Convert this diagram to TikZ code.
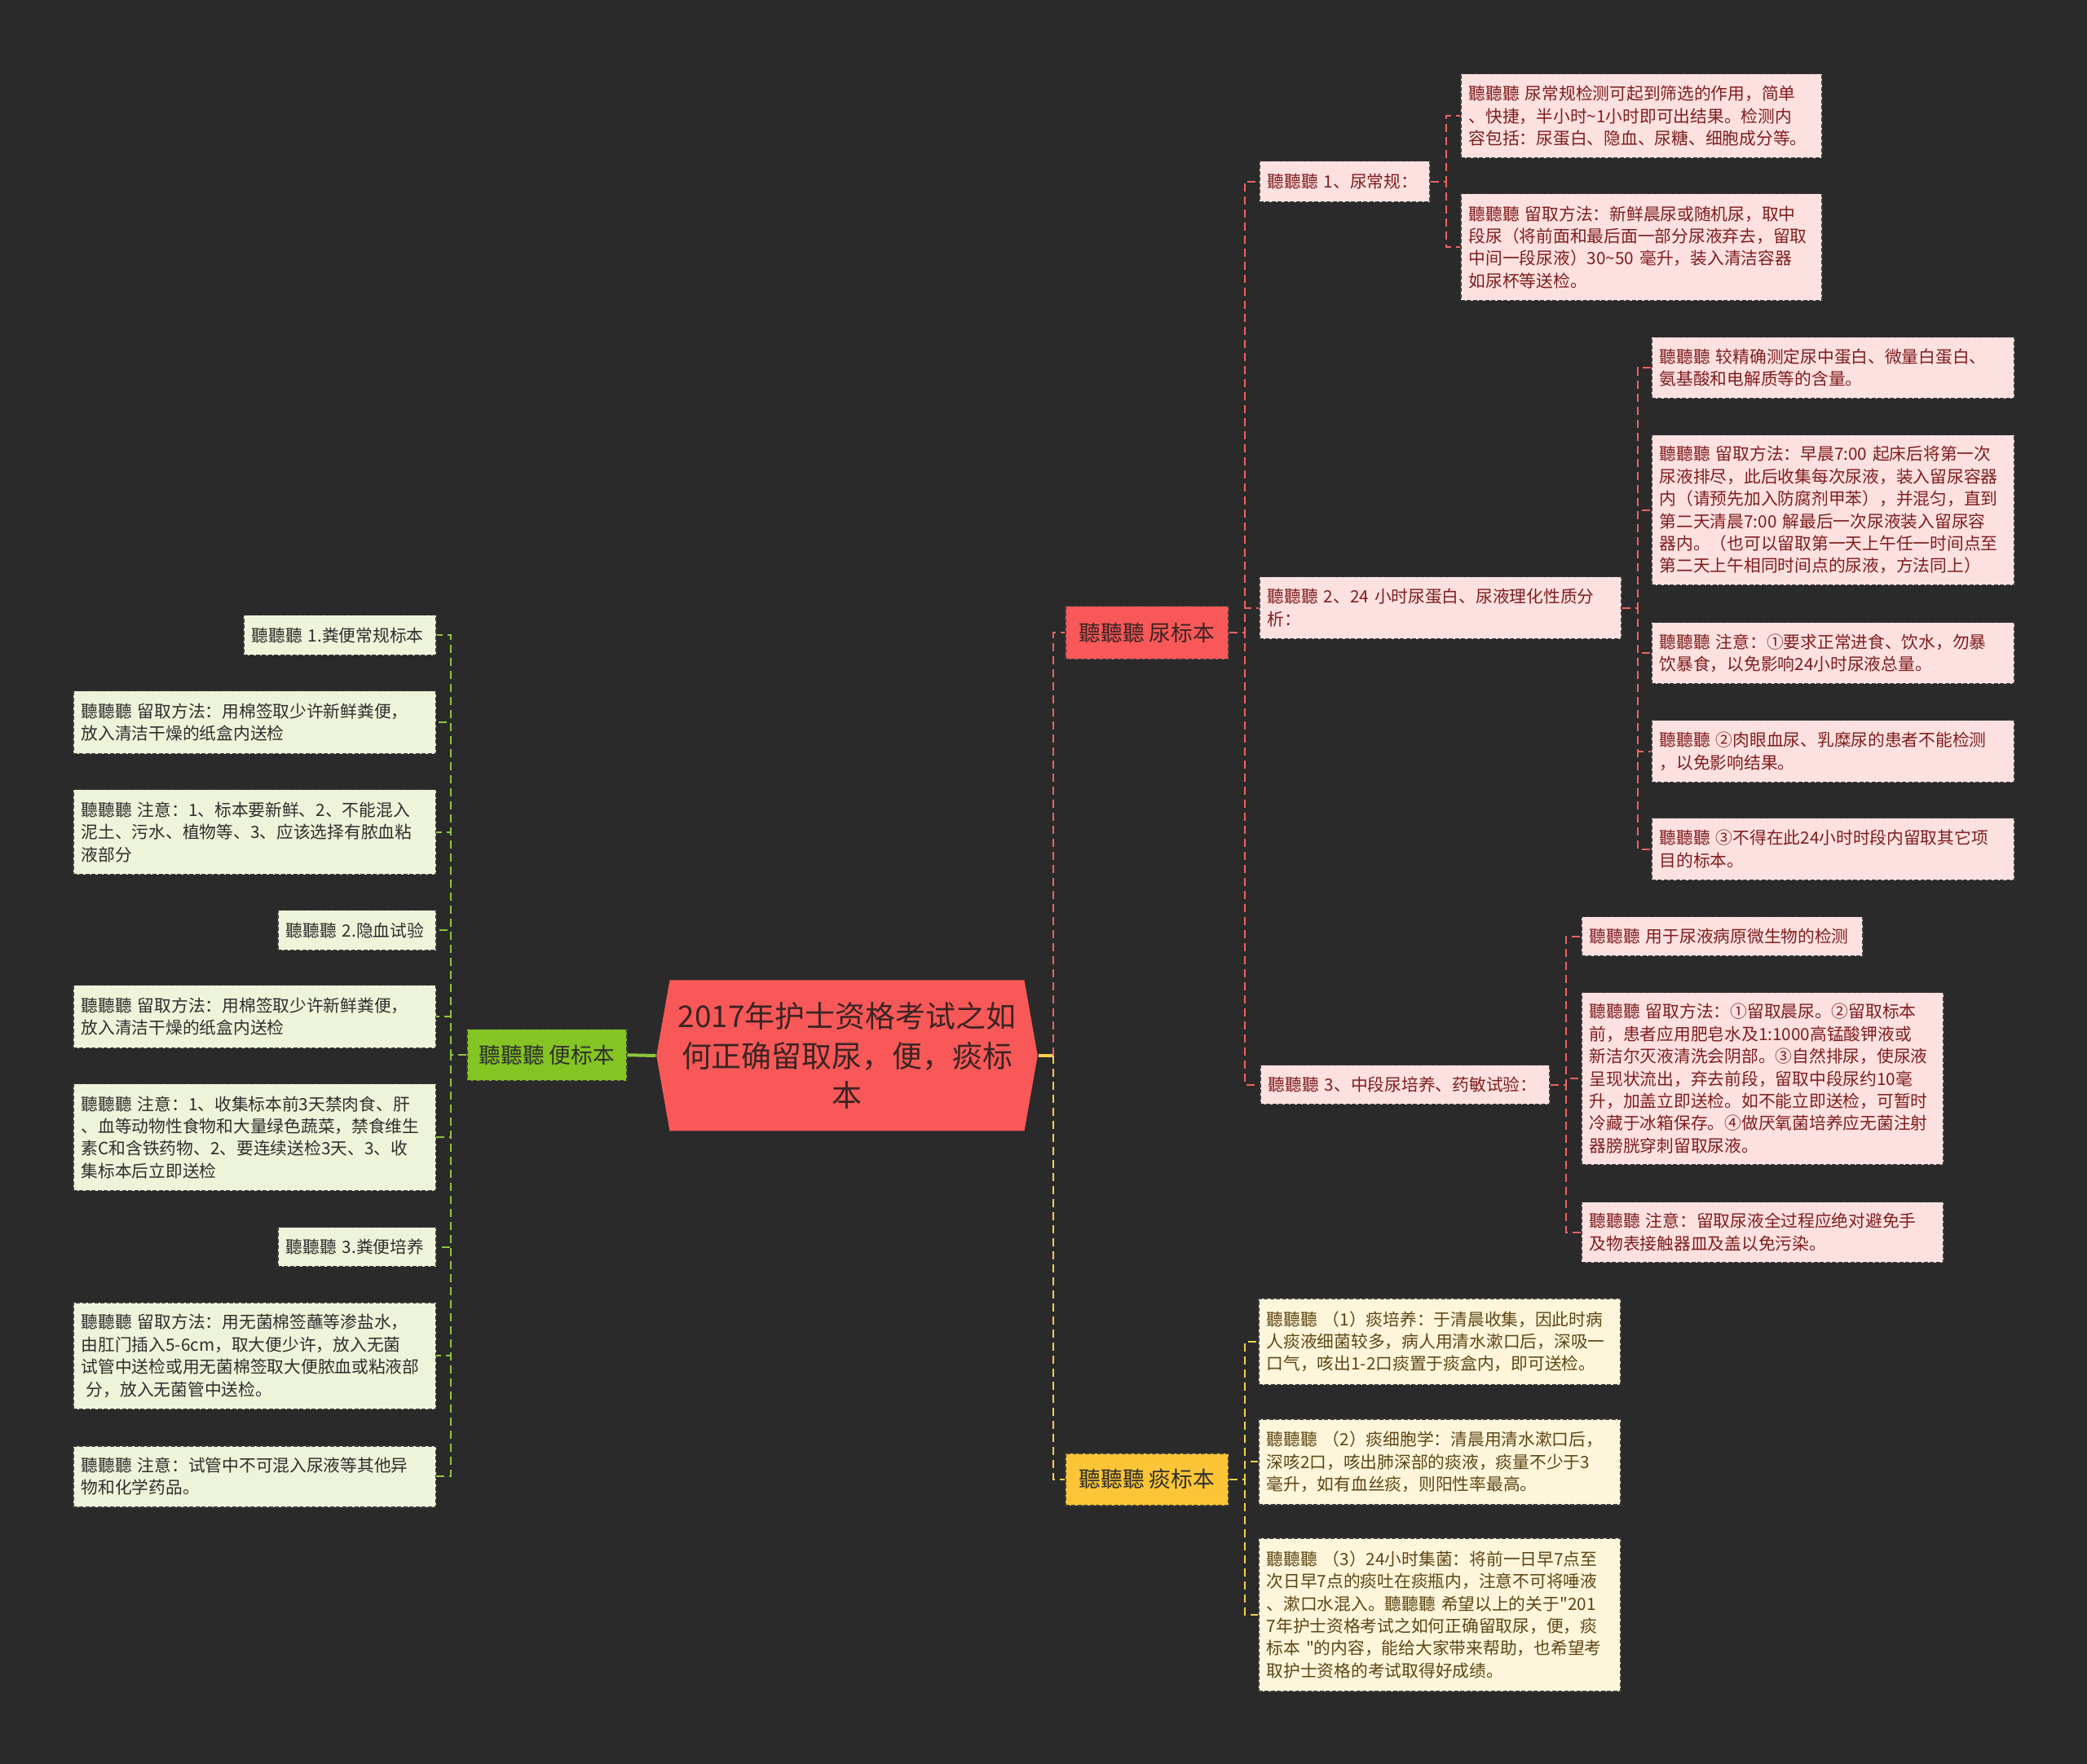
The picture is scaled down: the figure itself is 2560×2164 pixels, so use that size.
\documentclass[tikz,border=0pt]{standalone}
\usepackage{fontspec}
\setmainfont{Noto Sans CJK SC}[Ligatures=TeXOff]
\usepackage{tikz}
\usetikzlibrary{shapes.symbols,calc}
\usepackage{xcolor}
\definecolor{bgdark}{HTML}{2A2A2A}
\definecolor{rootfill}{HTML}{F95858}
\definecolor{roottext}{HTML}{3A2424}
\definecolor{pinkfill}{HTML}{FDE1E1}
\definecolor{pinktext}{HTML}{7F1D1D}
\definecolor{grnbranch}{HTML}{84C423}
\definecolor{grnfill}{HTML}{EEF4D9}
\definecolor{grntext}{HTML}{2E2E2E}
\definecolor{ylwbranch}{HTML}{FBC537}
\definecolor{ylwfill}{HTML}{FDF6DB}
\definecolor{ylwtext}{HTML}{5E4514}
\definecolor{redline}{HTML}{F06262}
\definecolor{grnline}{HTML}{8DC63F}
\definecolor{ylwline}{HTML}{F7D04C}
\definecolor{boxedge}{HTML}{3C3C3C}
\tikzset{
  root/.style = {signal, signal to=east and west, signal pointer angle=160, fill=rootfill,
    minimum width=46.2mm, minimum height=18.5mm, text width=41.5mm, align=center,
    inner xsep=1mm, text=roottext, font=\fontsize{10.5}{13.7}\selectfont},
  branch/.style = {rectangle, draw=boxedge, line width=0.15mm, dash pattern=on 0.5mm off 0.25mm,
    anchor=north west, minimum width=20mm, minimum height=6.5mm, align=center,
    font=\fontsize{7.6}{9}\selectfont},
  leaf/.style = {rectangle, draw=boxedge, line width=0.15mm, dash pattern=on 0.5mm off 0.25mm,
    anchor=north west, align=left, inner xsep=1mm, inner ysep=0.5mm,
    font=\fontsize{5.9}{7.8}\selectfont},
  urileaf/.style = {leaf, fill=pinkfill, text=pinktext},
  stoolleaf/.style = {leaf, fill=grnfill, text=grntext},
  spuleaf/.style = {leaf, fill=ylwfill, text=ylwtext},
  redlink/.style = {draw=redline, line width=0.2mm, dash pattern=on 1mm off 0.6mm},
  grnlink/.style = {draw=grnline, line width=0.2mm, dash pattern=on 1mm off 0.6mm},
  ylwlink/.style = {draw=ylwline, line width=0.2mm, dash pattern=on 1mm off 0.6mm},
  trunk/.style = {line width=0.4mm}
}
\begin{document}
\begin{tikzpicture}[x=0.1mm, y=-0.1mm]
\fill[bgdark] (0,0) rectangle (2560,2164);
\useasboundingbox (0,0) rectangle (2560,2164);

\node[root] (root) at (1039,1295) {2017年护士资格考试之如\\何正确留取尿，便，痰标\\本};

\node[branch, fill=rootfill, text=roottext] (uri) at (1306,743) {聽聽聽 尿标本};
\node[branch, fill=grnbranch, text=grntext, minimum width=19.6mm, minimum height=6.3mm] (stool) at (572,1262) {聽聽聽 便标本};
\node[branch, fill=ylwbranch, text=grntext, minimum height=6.4mm] (spu) at (1306,1782) {聽聽聽 痰标本};

% urine
\node[urileaf, text width=18.9mm, minimum height=5mm] (u1) at (1544,197) {聽聽聽 1、尿常规：};
\node[urileaf, text width=42.3mm, minimum height=10.3mm] (a1) at (1791,90)
  {聽聽聽 尿常规检测可起到筛选的作用，简单\\、快捷，半小时\textasciitilde1小时即可出结果。检测内\\容包括：尿蛋白、隐血、尿糖、细胞成分等。};
\node[urileaf, text width=42.3mm, minimum height=13.1mm] (a2) at (1791,237)
  {聽聽聽 留取方法：新鲜晨尿或随机尿，取中\\段尿（将前面和最后面一部分尿液弃去，留取\\中间一段尿液）30\textasciitilde50 毫升，装入清洁容器\\如尿杯等送检。};

\node[urileaf, text width=42.4mm, minimum height=7.6mm] (u2) at (1544,707)
  {聽聽聽 2、24 小时尿蛋白、尿液理化性质分\\析：};
\node[urileaf, text width=42.5mm, minimum height=7.5mm] (b1) at (2025,413)
  {聽聽聽 较精确测定尿中蛋白、微量白蛋白、\\氨基酸和电解质等的含量。};
\node[urileaf, text width=42.5mm, minimum height=18.4mm] (b2) at (2025,533)
  {聽聽聽 留取方法：早晨7:00 起床后将第一次\\尿液排尽，此后收集每次尿液，装入留尿容器\\内（请预先加入防腐剂甲苯），并混匀，直到\\第二天清晨7:00 解最后一次尿液装入留尿容\\器内。（也可以留取第一天上午任一时间点至\\第二天上午相同时间点的尿液，方法同上）};
\node[urileaf, text width=42.5mm, minimum height=7.5mm] (b3) at (2025,763)
  {聽聽聽 注意：①要求正常进食、饮水，勿暴\\饮暴食，以免影响24小时尿液总量。};
\node[urileaf, text width=42.5mm, minimum height=7.6mm] (b4) at (2025,883)
  {聽聽聽 ②肉眼血尿、乳糜尿的患者不能检测\\，以免影响结果。};
\node[urileaf, text width=42.5mm, minimum height=7.6mm] (b5) at (2025,1003)
  {聽聽聽 ③不得在此24小时时段内留取其它项\\目的标本。};

\node[urileaf, text width=33.5mm, minimum height=4.8mm] (u3) at (1545,1306) {聽聽聽 3、中段尿培养、药敏试验：};
\node[urileaf, text width=32.5mm, minimum height=4.8mm] (c1) at (1939,1124) {聽聽聽 用于尿液病原微生物的检测};
\node[urileaf, text width=42.4mm, minimum height=21.1mm] (c2) at (1939,1217)
  {聽聽聽 留取方法：①留取晨尿。②留取标本\\前，患者应用肥皂水及1:1000高锰酸钾液或\\新洁尔灭液清洗会阴部。③自然排尿，使尿液\\呈现状流出，弃去前段，留取中段尿约10毫\\升，加盖立即送检。如不能立即送检，可暂时\\冷藏于冰箱保存。④做厌氧菌培养应无菌注射\\器膀胱穿刺留取尿液。};
\node[urileaf, text width=42.4mm, minimum height=7.4mm] (c3) at (1939,1474)
  {聽聽聽 注意：留取尿液全过程应绝对避免手\\及物表接触器皿及盖以免污染。};

% sputum
\node[spuleaf, text width=42.4mm, minimum height=10.6mm] (d1) at (1543,1592)
  {聽聽聽 （1）痰培养：于清晨收集，因此时病\\人痰液细菌较多，病人用清水漱口后，深吸一\\口气，咳出1-2口痰置于痰盒内，即可送检。};
\node[spuleaf, text width=42.4mm, minimum height=10.5mm] (d2) at (1543,1740)
  {聽聽聽 （2）痰细胞学：清晨用清水漱口后，\\深咳2口，咳出肺深部的痰液，痰量不少于3\\毫升，如有血丝痰，则阳性率最高。};
\node[spuleaf, text width=42.4mm, minimum height=18.8mm] (d3) at (1543,1886)
  {聽聽聽 （3）24小时集菌：将前一日早7点至\\次日早7点的痰吐在痰瓶内，注意不可将唾液\\、漱口水混入。聽聽聽 希望以上的关于"201\\7年护士资格考试之如何正确留取尿，便，痰\\标本 "的内容，能给大家带来帮助，也希望考\\取护士资格的考试取得好成绩。};

% stool
\node[stoolleaf, text width=21.6mm, minimum height=4.9mm] (e1) at (298,754) {聽聽聽 1.粪便常规标本};
\node[stoolleaf, text width=42.5mm, minimum height=7.7mm] (e2) at (89,847)
  {聽聽聽 留取方法：用棉签取少许新鲜粪便，\\放入清洁干燥的纸盒内送检};
\node[stoolleaf, text width=42.5mm, minimum height=10.4mm] (e3) at (89,968)
  {聽聽聽 注意：1、标本要新鲜、2、不能混入\\泥土、污水、植物等、3、应该选择有脓血粘\\液部分};
\node[stoolleaf, text width=17.4mm, minimum height=4.9mm] (e4) at (340,1116) {聽聽聽 2.隐血试验};
\node[stoolleaf, text width=42.5mm, minimum height=7.7mm] (e5) at (89,1208)
  {聽聽聽 留取方法：用棉签取少许新鲜粪便，\\放入清洁干燥的纸盒内送检};
\node[stoolleaf, text width=42.5mm, minimum height=13.1mm] (e6) at (89,1329)
  {聽聽聽 注意：1、收集标本前3天禁肉食、肝\\、血等动物性食物和大量绿色蔬菜，禁食维生\\素C和含铁药物、2、要连续送检3天、3、收\\集标本后立即送检};
\node[stoolleaf, text width=17.4mm, minimum height=4.8mm] (e7) at (340,1505) {聽聽聽 3.粪便培养};
\node[stoolleaf, text width=42.5mm, minimum height=13.1mm] (e8) at (89,1597)
  {聽聽聽 留取方法：用无菌棉签蘸等渗盐水，\\由肛门插入5-6cm，取大便少许，放入无菌\\试管中送检或用无菌棉签取大便脓血或粘液部\\\hspace*{0.3em}分，放入无菌管中送检。};
\node[stoolleaf, text width=42.5mm, minimum height=7.5mm] (e9) at (89,1773)
  {聽聽聽 注意：试管中不可混入尿液等其他异\\物和化学药品。};

\coordinate (rj) at ($(root.east)+(18,0)$);
\draw[trunk, draw=ylwline] (root.east) -- (rj);
\draw[trunk, draw=grnline] (root.west) -- (stool.east);
\draw[redlink] (rj) |- (uri.west);
\draw[ylwlink] (rj) |- (spu.west);

\foreach \c in {u1,u2,u3} \draw[redlink] (uri.east) -- +(19,0) |- (\c.west);
\foreach \c in {a1,a2} \draw[redlink] (u1.east) -- +(19,0) |- (\c.west);
\foreach \c in {b1,b2,b3,b4,b5} \draw[redlink] (u2.east) -- +(19,0) |- (\c.west);
\foreach \c in {c1,c2,c3} \draw[redlink] (u3.east) -- +(19,0) |- (\c.west);
\foreach \c in {d1,d2,d3} \draw[ylwlink] (spu.east) -- +(19,0) |- (\c.west);
\foreach \c in {e1,e2,e3,e4,e5,e6,e7,e8,e9} \draw[grnlink] (stool.west) -- +(-19,0) |- (\c.east);

\end{tikzpicture}
\end{document}
